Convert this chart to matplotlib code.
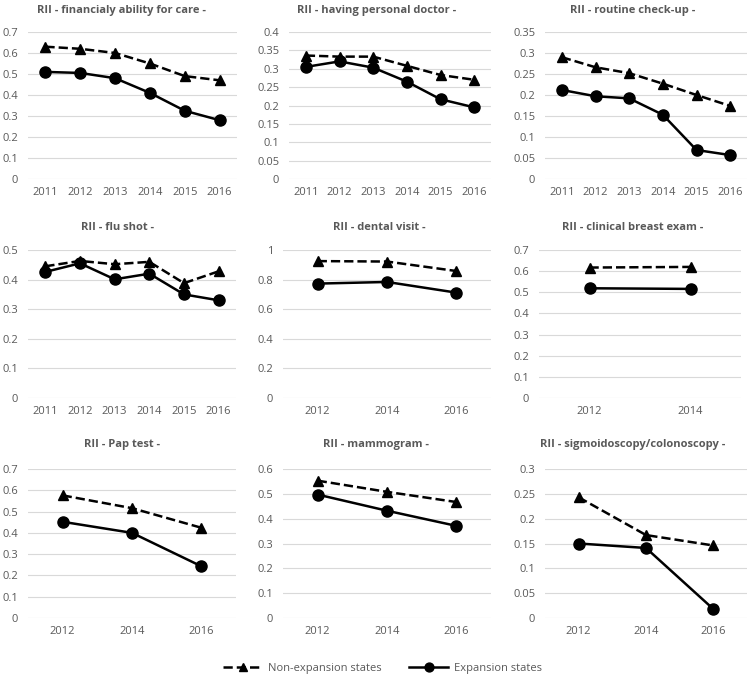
import matplotlib
matplotlib.use("Agg")
import matplotlib.pyplot as plt
from matplotlib.ticker import FuncFormatter

plt.rcParams['font.family'] = ['Open Sans', 'DejaVu Sans']

years6 = ['2011', '2012', '2013', '2014', '2015', '2016']
years3 = ['2012', '2014', '2016']
years2 = ['2012', '2014']

titles = [
    'RII - financialy ability for care -',
    'RII - having personal doctor -',
    'RII - routine check-up -',
    'RII - flu shot -',
    'RII - dental visit -',
    'RII - clinical breast exam -',
    'RII - Pap test -',
    'RII - mammogram -',
    'RII - sigmoidoscopy/colonoscopy -',
]

finance_non = [0.63, 0.62, 0.60, 0.55, 0.49, 0.47]
finance_exp = [0.51, 0.505, 0.48, 0.41, 0.325, 0.28]
doctor_non = [0.336, 0.333, 0.333, 0.308, 0.283, 0.270]
doctor_exp = [0.305, 0.320, 0.303, 0.265, 0.217, 0.195]
checkup_non = [0.290, 0.266, 0.252, 0.227, 0.200, 0.174]
checkup_exp = [0.212, 0.197, 0.192, 0.153, 0.069, 0.057]
flu_non = [0.445, 0.463, 0.452, 0.460, 0.388, 0.428]
flu_exp = [0.426, 0.455, 0.401, 0.420, 0.350, 0.330]
dental_non = [0.925, 0.922, 0.858]
dental_exp = [0.773, 0.784, 0.712]
breast_non = [0.617, 0.620]
breast_exp = [0.519, 0.516]
pap_non = [0.576, 0.516, 0.424]
pap_exp = [0.452, 0.400, 0.243]
mammo_non = [0.553, 0.508, 0.467]
mammo_exp = [0.497, 0.432, 0.371]
sigmo_non = [0.243, 0.167, 0.146]
sigmo_exp = [0.150, 0.141, 0.018]

panels = [
    (years6, finance_non, finance_exp, 0.7, 0.1),
    (years6, doctor_non, doctor_exp, 0.4, 0.05),
    (years6, checkup_non, checkup_exp, 0.35, 0.05),
    (years6, flu_non, flu_exp, 0.5, 0.1),
    (years3, dental_non, dental_exp, 1.0, 0.2),
    (years2, breast_non, breast_exp, 0.7, 0.1),
    (years3, pap_non, pap_exp, 0.7, 0.1),
    (years3, mammo_non, mammo_exp, 0.6, 0.1),
    (years3, sigmo_non, sigmo_exp, 0.3, 0.05),
]

W, H = 750, 678
# plot areas in pixels: left, right, top, bottom
boxes = [
    (28, 237, 32, 179), (289, 491, 32, 179), (545, 747, 32, 179),
    (28, 236, 250, 398), (283, 491, 250, 398), (539, 741, 250, 398),
    (28, 236, 469, 618), (283, 491, 469, 618), (545, 747, 469, 618),
]
title_pos = [(122, 10), (377, 10), (633, 10),
             (118, 227), (379, 227), (633, 227),
             (122, 445), (376, 445), (633, 445)]

grey = '#595959'
fig = plt.figure(figsize=(W / 100, H / 100), dpi=100)

for i, (cats, non, exp, ymax, step) in enumerate(panels):
    l, r, t, b = boxes[i]
    ax = fig.add_axes([l / W, 1 - b / H, (r - l) / W, (b - t) / H])
    x = list(range(len(cats)))
    ax.plot(x, non, color='black', linestyle='--', linewidth=1.8,
            marker='^', markersize=7.5, label='Non-expansion states')
    ax.plot(x, exp, color='black', linestyle='-', linewidth=1.8,
            marker='o', markersize=8, label='Expansion states')
    ax.set_xlim(-0.5, len(cats) - 0.5)
    ax.set_ylim(0, ymax)
    n = int(round(ymax / step))
    ax.set_yticks([round(k * step, 3) for k in range(n + 1)])
    ax.yaxis.set_major_formatter(FuncFormatter(lambda v, p: '%g' % v))
    ax.set_xticks(x)
    ax.set_xticklabels(cats)
    ax.grid(axis='y', color='#d9d9d9', linewidth=0.8)
    ax.set_axisbelow(True)
    for s in ax.spines.values():
        s.set_visible(False)
    ax.tick_params(length=0, labelsize=8, labelcolor=grey, pad=6)
    ax.tick_params(axis='y', pad=7)
    tx, ty = title_pos[i]
    fig.text(tx / W, 1 - ty / H, titles[i], ha='center', va='center',
             fontsize=8, fontweight='bold', color=grey)
    if i == 0:
        handles, labels = ax.get_legend_handles_labels()

fig.legend(handles, labels, loc='center', bbox_to_anchor=(0.51, 1 - 668 / H),
           ncol=2, frameon=False, fontsize=8, labelcolor=grey,
           handlelength=3.5, columnspacing=2.5, handletextpad=0.5,
           markerscale=0.8)

fig.savefig('out.png', dpi=100)
